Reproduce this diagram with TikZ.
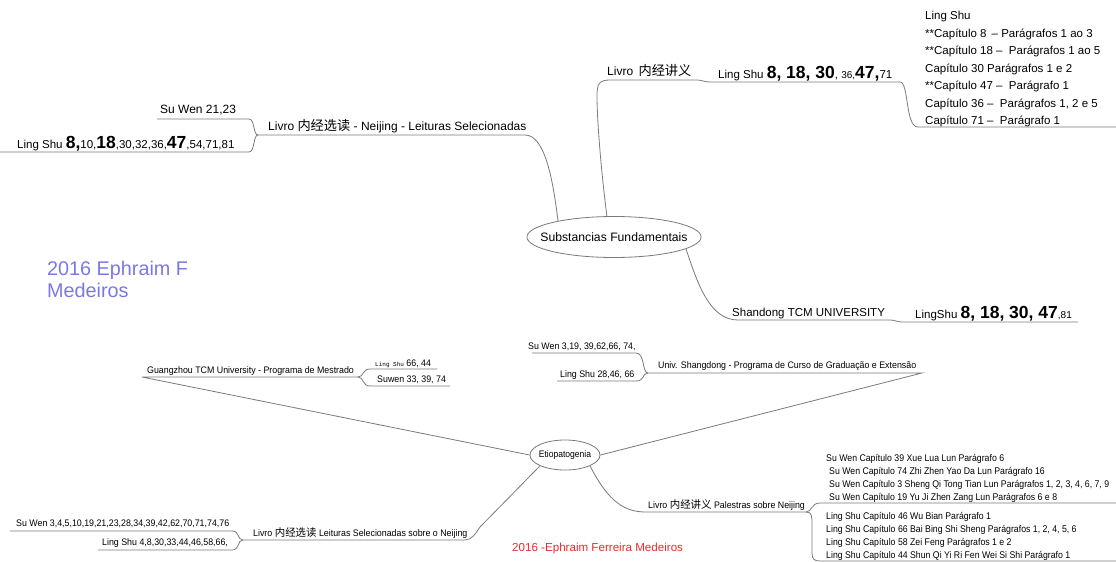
\documentclass[tikz,border=0pt]{standalone}
\usepackage{fontspec}
\usetikzlibrary{shapes.geometric}
\setmainfont{Liberation Sans}
\newfontfamily\cjk[Scale=1.1]{Noto Sans CJK SC}
\newfontfamily\narrow[FakeStretch=0.9]{Liberation Sans}
\newfontfamily\narrowb[FakeStretch=0.93]{Liberation Sans}
\newfontfamily\tmono{Liberation Mono}
\definecolor{lnc}{HTML}{7A7A7A}
\definecolor{peri}{HTML}{7B78E6}
\definecolor{redtxt}{HTML}{E82A2A}
\newcommand\bnum[1]{{\fontsize{17.5}{17.5}\selectfont\bfseries #1}}
\begin{document}
\begin{tikzpicture}[x=1pt,y=-1pt,
  txt/.style={inner sep=0pt, anchor=base west, font=\fontsize{12}{13}\selectfont},
  txs/.style={inner sep=0pt, anchor=base west, font=\fontsize{11.5}{13}\selectfont},
  sm/.style={inner sep=0pt, anchor=base west, font=\narrowb\fontsize{9.5}{11}\selectfont},
  nw/.style={inner sep=0pt, anchor=base west, font=\narrow\fontsize{9.7}{11}\selectfont},
  ln/.style={draw=lnc, line width=0.8pt},
  topic/.style={ellipse, draw=lnc, line width=0.8pt, fill=white, inner ysep=0pt}]
\useasboundingbox (0,0) rectangle (1116,562);

% ---------- central topic
\node[topic, inner xsep=-12pt, minimum width=174, minimum height=41, font=\fontsize{12.2}{13}\selectfont] (sf) at (614,237) {Substancias Fundamentais};

% ---------- top-left branch
\node[txt] (sw1) at (160,113) {Su Wen 21,23};
\node[txt] (lv1) at (268,130) {Livro {\cjk 内经选读} - Neijing - Leituras Selecionadas};
\node[txs] (ls1) at (17,148) {Ling Shu \bnum{8,}10,\bnum{18},30,32,36,\bnum{47},54,71,81};
\coordinate (b1) at (258,135);
\draw[ln] (157,119) -- (249,119) .. controls (255,119) and (253,135) .. (b1);
\draw[ln] (0,152) -- (249,152) .. controls (255,152) and (253,135) .. (b1);
\draw[ln] (b1) -- (525,135) .. controls (545,135) and (553,180) .. (558,221);

% ---------- top branch
\node[txt] (lv2) at (607,75) {Livro \,{\cjk 内经讲义}};
\node[txs] (ls2) at (718,78) {Ling Shu \bnum{8, 18, 30}, {\fontsize{10}{10}\selectfont 36,}\bnum{47,}71};
\node[txs, anchor=north west, align=left, font=\fontsize{11.5}{17.5}\selectfont] (lst) at (925,11)
 {Ling Shu\\
 **Capítulo 8 \,– Parágrafos 1 ao 3\\
 **Capítulo 18 – \ Parágrafos 1 ao 5\\
 Capítulo 30 Parágrafos 1 e 2\\
 **Capítulo 47 – \ Parágrafo 1\\
 Capítulo 36 – \ Parágrafos 1, 2 e 5\\
 Capítulo 71 – \ Parágrafo 1};
\draw[ln] (607,217) .. controls (601,170) and (597,120) .. (597,96)
  .. controls (597,84) and (599,80) .. (610,80) -- (697,80)
  .. controls (702,80) and (704,82) .. (710,82) -- (900,82)
  .. controls (909,82) and (905,127) .. (918,127) -- (1116,127);

% ---------- right branch
\node[txs] (sd) at (732,316) {Shandong TCM UNIVERSITY};
\node[txs] (ls3) at (915,318) {LingShu \bnum{8, 18, 30, 47}{\fontsize{10}{10}\selectfont ,81}};
\draw[ln] (686,249) .. controls (698,285) and (710,320) .. (738,320) -- (890,320)
  .. controls (895,320) and (897,322) .. (902,322) -- (1078,322);

% ---------- signature
\node[inner sep=0pt, anchor=base west, align=left, text=peri, font=\fontsize{19.8}{22}\selectfont] (sig) at (47,297) {2016 Ephraim F\\Medeiros};

% ---------- Etiopatogenia
\node[topic, inner xsep=-3pt, minimum width=70, minimum height=30, font=\narrow\fontsize{9.5}{11}\selectfont] (ep) at (565,455) {Etiopatogenia};

% Guangzhou
\node[sm] (gz) at (147,373) {Guangzhou TCM University - Programa de Mestrado};
\node[sm] (ls4) at (375,366) {{\tmono\fontsize{6}{6}\selectfont Ling Shu} 66, 44};
\node[sm] (sw4) at (377,382) {Suwen 33, 39, 74};
\coordinate (b4) at (358,377);
\draw[ln] (ep.west) -- (142,377) -- (b4);
\draw[ln] (b4) .. controls (364,377) and (362,369) .. (370,369) -- (437,369);
\draw[ln] (b4) .. controls (364,377) and (362,386) .. (370,386) -- (450,386);

% Univ Shangdong
\node[sm] (us) at (658,368) {Univ. Shangdong - Programa de Curso de Graduação e Extensão};
\node[sm] (sw5) at (528,349) {Su Wen 3,19, 39,62,66, 74,};
\node[sm] (ls5) at (560,377) {Ling Shu 28,46, 66};
\coordinate (b5) at (648,373);
\draw[ln] (ep.east) -- (922,373) -- (b5);
\draw[ln] (b5) .. controls (642,373) and (645,353) .. (636,353) -- (532,353);
\draw[ln] (b5) .. controls (642,373) and (645,381) .. (636,381) -- (557,381);

% Livro bottom-left
\node[sm] (lv6) at (253,536) {Livro {\cjk 内经选读} Leituras Selecionadas sobre o Neijing};
\node[sm] (sw6) at (16,526) {Su Wen 3,4,5,10,19,21,23,28,34,39,42,62,70,71,74,76};
\node[sm] (ls6) at (102,545) {Ling Shu 4,8,30,33,44,46,58,66,};
\coordinate (b6) at (243,540);
\draw[ln] (ep.south west) -- (480,527) .. controls (476,533) and (472,540) .. (465,540) -- (b6);
\draw[ln] (b6) .. controls (237,540) and (240,531) .. (232,531) -- (10,531);
\draw[ln] (b6) .. controls (237,540) and (240,550) .. (232,550) -- (98,550);

% Livro bottom-right
\node[sm] (lv7) at (648,508) {Livro {\cjk 内经讲义} Palestras sobre Neijing};
\node[nw] (s71) at (826,461) {Su Wen Capítulo 39 Xue Lua Lun Parágrafo 6};
\node[nw] (s72) at (829,474) {Su Wen Capítulo 74 Zhi Zhen Yao Da Lun Parágrafo 16};
\node[nw] (s73) at (829,487) {Su Wen Capítulo 3 Sheng Qi Tong Tian Lun Parágrafos 1, 2, 3, 4, 6, 7, 9};
\node[nw] (s74) at (829,500) {Su Wen Capítulo 19 Yu Ji Zhen Zang Lun Parágrafos 6 e 8};
\node[nw] (l71) at (826,519) {Ling Shu Capítulo 46 Wu Bian Parágrafo 1};
\node[nw] (l72) at (826,532) {Ling Shu Capítulo 66 Bai Bing Shi Sheng Parágrafos 1, 2, 4, 5, 6};
\node[nw] (l73) at (826,545) {Ling Shu Capítulo 58 Zei Feng Parágrafos 1 e 2};
\node[nw] (l74) at (826,558) {Ling Shu Capítulo 44 Shun Qi Yi Ri Fen Wei Si Shi Parágrafo 1};
\coordinate (b7) at (806,512);
\draw[ln] (ep.south east) .. controls (605,495) and (620,512) .. (645,512) -- (b7);
\draw[ln] (b7) .. controls (812,512) and (811,503) .. (820,503) -- (1116,503);
\draw[ln] (b7) .. controls (812,512) and (812,516) .. (812,525) -- (812,553)
  .. controls (812,559) and (814,561) .. (820,561) -- (1116,561);

% red signature
\node[inner sep=0pt, anchor=base west, text=redtxt, font=\fontsize{11.6}{13}\selectfont] (sig2) at (512,551) {2016 -Ephraim Ferreira Medeiros};
\end{tikzpicture}
\end{document}
